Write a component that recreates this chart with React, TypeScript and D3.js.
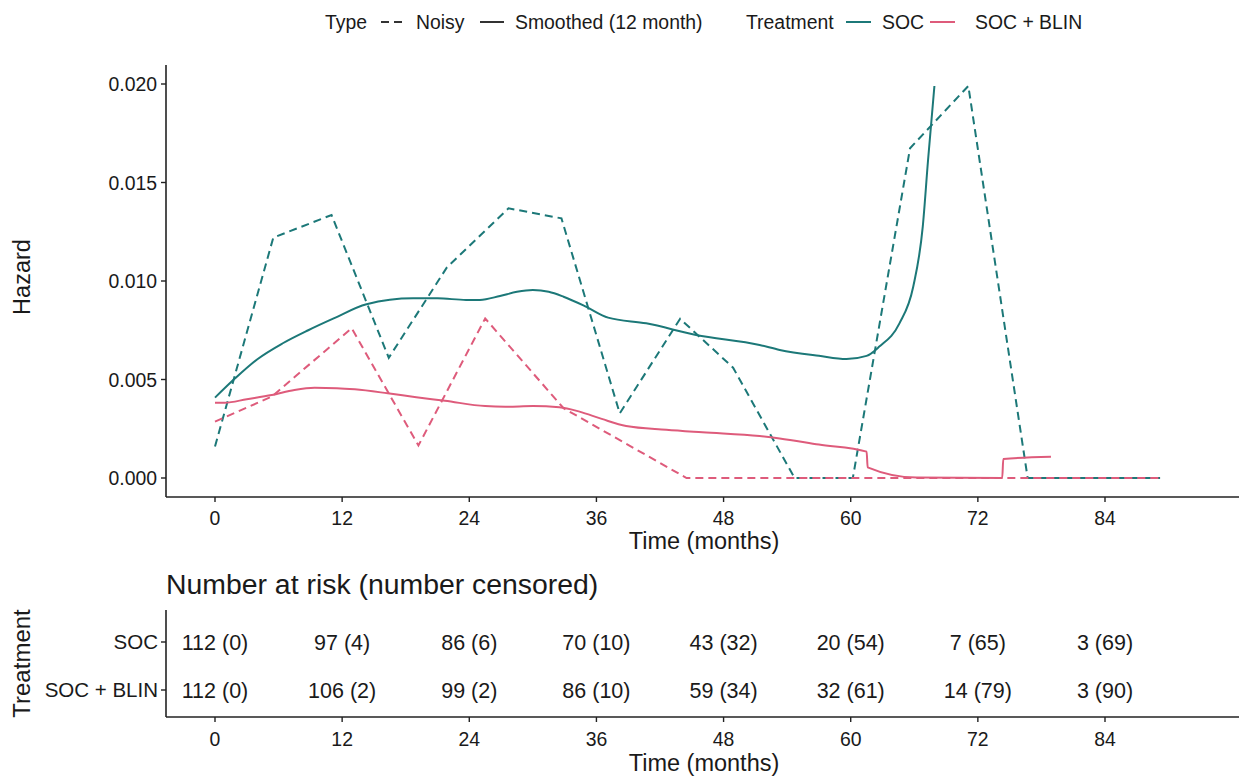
import React from "react";
import * as d3 from "d3";

// ---- Data -------------------------------------------------------------
const treatments = ["SOC", "SOC + BLIN"];
const treatmentColors = ["#1c7878", "#de5b7b"];

// Noisy hazard estimates (time in months, hazard)
const socNoisyT = [0, 5.5, 11.0, 16.4, 21.9, 27.7, 32.7, 38.2, 43.9, 48.9, 54.7, 60.2, 65.6, 71.1, 76.7, 89.2];
const socNoisyH = [0.0016, 0.0122, 0.01335, 0.0061, 0.0107, 0.01369, 0.01318, 0.00328, 0.00808, 0.0056, 0, 0, 0.01674, 0.0199, 0, 0];

const blinNoisyT = [0, 5.35, 12.9, 19.2, 25.5, 32.9, 44.5, 89.2];
const blinNoisyH = [0.00286, 0.00413, 0.0076, 0.00165, 0.0081, 0.00354, 0, 0];

// Smoothed (12 month) hazard
const socSmoothT = [0, 1.9, 4, 6.4, 8.8, 11.2, 14.3, 18.7, 21, 23.7, 25, 26.9, 28.5, 30, 31.5, 32.9, 35, 37.1, 40.7, 45.4, 51.4, 53.3, 57, 59.6, 61.5, 62.7, 64.6, 65.9, 66.8, 67.3, 67.9];
const socSmoothH = [0.00408, 0.00506, 0.00603, 0.00684, 0.0075, 0.0081, 0.00882, 0.00912, 0.00912, 0.00904, 0.00904, 0.00924, 0.00945, 0.00954, 0.00945, 0.0092, 0.0087, 0.00814, 0.00785, 0.00726, 0.00675, 0.0065, 0.0062, 0.00604, 0.0062, 0.00667, 0.00785, 0.00971, 0.01276, 0.01614, 0.0199];

const blinSmoothT = [0, 0.94, 3, 5.35, 7.5, 9.4, 11.5, 13.2, 16.3, 19, 21.7, 25.5, 27.4, 30, 32.5, 34.4, 36.5, 38.8, 42.6, 46, 51.4, 53.3, 57, 61.5, 61.6, 66.2, 74.3, 74.4, 78.9];
const blinSmoothH = [0.00382, 0.00382, 0.004, 0.00421, 0.00447, 0.00458, 0.00456, 0.0045, 0.0043, 0.0041, 0.00392, 0.00365, 0.00362, 0.00365, 0.00359, 0.00337, 0.003, 0.00264, 0.00245, 0.00232, 0.00213, 0.00201, 0.0017, 0.00134, 0.00054, 0.00002, 0, 0.00096, 0.00108];

// Number at risk table
const riskTimes = [0, 12, 24, 36, 48, 60, 72, 84];
const socAtRisk = [112, 97, 86, 70, 43, 20, 7, 3];
const socCensored = [0, 4, 6, 10, 32, 54, 65, 69];
const blinAtRisk = [112, 106, 99, 86, 59, 32, 14, 3];
const blinCensored = [0, 2, 2, 10, 34, 61, 79, 90];

const xTicks = [0, 12, 24, 36, 48, 60, 72, 84];
const yTicks = [0, 0.005, 0.01, 0.015, 0.02];

// ---- Layout -----------------------------------------------------------
const W = 1239;
const H = 778;
const FONT = "'Liberation Sans', Arial, Helvetica, sans-serif";
const TEXT = "#1a1a1a";
const AXIS = "#222";
const TICK_SIZE = 19.4;
const TITLE_SIZE = 23.5;

const panelLeft = 166;
const panelRight = 1245;
const panelTop = 65;
const panelBottom = 497;

const x = d3.scaleLinear().domain([0, 84]).range([215, 1105]);
const y = d3.scaleLinear().domain([0, 0.02]).range([478, 84]);

// risk table rows
const riskTop = 610;
const riskBottom = 717;
const riskY = d3.scalePoint<string>().domain(treatments).range([642, 690]);

const zip = (t: number[], h: number[]) => t.map((v, i) => [v, h[i]] as [number, number]);

const smoothLine = d3
  .line<[number, number]>()
  .x((d) => x(d[0]))
  .y((d) => y(d[1]))
  .curve(d3.curveMonotoneX);

const noisyLine = d3
  .line<[number, number]>()
  .x((d) => x(d[0]))
  .y((d) => y(d[1]));

const series = [
  { noisy: zip(socNoisyT, socNoisyH), smooth: zip(socSmoothT, socSmoothH), color: treatmentColors[0] },
  { noisy: zip(blinNoisyT, blinNoisyH), smooth: zip(blinSmoothT, blinSmoothH), color: treatmentColors[1] },
];

const riskRows = [
  { name: treatments[0], atRisk: socAtRisk, censored: socCensored },
  { name: treatments[1], atRisk: blinAtRisk, censored: blinCensored },
];

const fmtY = d3.format(".3f");

function Legend() {
  const ly = 22;
  const base = ly + 7;
  return (
    <g fontFamily={FONT} fontSize={TICK_SIZE} fill={TEXT}>
      <text x={325} y={base}>Type</text>
      <line x1={381} x2={406} y1={ly} y2={ly} stroke="#333" strokeWidth={2} strokeDasharray="8,5" />
      <text x={416} y={base}>Noisy</text>
      <line x1={480} x2={504} y1={ly} y2={ly} stroke="#333" strokeWidth={2} />
      <text x={515} y={base}>Smoothed (12 month)</text>
      <text x={746} y={base}>Treatment</text>
      <line x1={846} x2={871} y1={ly} y2={ly} stroke={treatmentColors[0]} strokeWidth={2} />
      <text x={882} y={base}>SOC</text>
      <line x1={930} x2={955} y1={ly} y2={ly} stroke={treatmentColors[1]} strokeWidth={2} />
      <text x={975} y={base}>SOC + BLIN</text>
    </g>
  );
}

function HazardPanel() {
  return (
    <g fontFamily={FONT}>
      {/* data */}
      {series.map((s, i) => (
        <g key={i}>
          <path d={noisyLine(s.noisy) || ""} fill="none" stroke={s.color} strokeWidth={2} strokeDasharray="8,5" />
          <path d={smoothLine(s.smooth) || ""} fill="none" stroke={s.color} strokeWidth={2} />
        </g>
      ))}
      {/* axes */}
      <line x1={panelLeft} x2={panelLeft} y1={panelTop} y2={panelBottom} stroke={AXIS} strokeWidth={1.6} />
      <line x1={panelLeft} x2={panelRight} y1={panelBottom} y2={panelBottom} stroke={AXIS} strokeWidth={1.6} />
      {yTicks.map((t) => (
        <g key={t}>
          <line x1={panelLeft - 5} x2={panelLeft} y1={y(t)} y2={y(t)} stroke={AXIS} strokeWidth={1.4} />
          <text x={panelLeft - 9} y={y(t) + 7} textAnchor="end" fontSize={TICK_SIZE} fill={TEXT}>
            {fmtY(t)}
          </text>
        </g>
      ))}
      {xTicks.map((t) => (
        <g key={t}>
          <line x1={x(t)} x2={x(t)} y1={panelBottom} y2={panelBottom + 5} stroke={AXIS} strokeWidth={1.4} />
          <text x={x(t)} y={panelBottom + 28} textAnchor="middle" fontSize={TICK_SIZE} fill={TEXT}>
            {t}
          </text>
        </g>
      ))}
      <text x={(x(0) + x(84)) / 2 + 44} y={549} textAnchor="middle" fontSize={TITLE_SIZE} fill={TEXT}>
        Time (months)
      </text>
      <text
        transform={`translate(30, ${(panelTop + panelBottom) / 2 - 4}) rotate(-90)`}
        textAnchor="middle"
        fontSize={TITLE_SIZE}
        fill={TEXT}
      >
        Hazard
      </text>
    </g>
  );
}

function RiskTable() {
  return (
    <g fontFamily={FONT}>
      <text x={panelLeft} y={594} fontSize={28.4} fill={TEXT}>
        Number at risk (number censored)
      </text>
      <line x1={panelLeft} x2={panelLeft} y1={riskTop} y2={riskBottom} stroke={AXIS} strokeWidth={1.6} />
      <line x1={panelLeft} x2={panelRight} y1={riskBottom} y2={riskBottom} stroke={AXIS} strokeWidth={1.6} />
      {riskRows.map((r) => {
        const ry = riskY(r.name) as number;
        return (
          <g key={r.name}>
            <line x1={panelLeft - 5} x2={panelLeft} y1={ry} y2={ry} stroke={AXIS} strokeWidth={1.4} />
            <text x={panelLeft - 8} y={ry + 7} textAnchor="end" fontSize={20.5} fill={TEXT}>
              {r.name}
            </text>
            {riskTimes.map((t, i) => (
              <text key={t} x={x(t)} y={ry + 7.5} textAnchor="middle" fontSize={21.5} fill={TEXT}>
                {`${r.atRisk[i]} (${r.censored[i]})`}
              </text>
            ))}
          </g>
        );
      })}
      {xTicks.map((t) => (
        <g key={t}>
          <line x1={x(t)} x2={x(t)} y1={riskBottom} y2={riskBottom + 5} stroke={AXIS} strokeWidth={1.4} />
          <text x={x(t)} y={riskBottom + 29} textAnchor="middle" fontSize={TICK_SIZE} fill={TEXT}>
            {t}
          </text>
        </g>
      ))}
      <text x={(x(0) + x(84)) / 2 + 44} y={771} textAnchor="middle" fontSize={TITLE_SIZE} fill={TEXT}>
        Time (months)
      </text>
      <text
        transform={`translate(30, ${(riskTop + riskBottom) / 2}) rotate(-90)`}
        textAnchor="middle"
        fontSize={TITLE_SIZE + 0.5}
        fill={TEXT}
      >
        Treatment
      </text>
    </g>
  );
}

export default function App() {
  return (
    <svg
      width={W}
      height={H}
      viewBox={`0 0 ${W} ${H}`}
      style={{ position: "absolute", left: 0, top: 0, background: "#fff" }}
    >
      <rect width={W} height={H} fill="#fff" />
      <Legend />
      <HazardPanel />
      <RiskTable />
    </svg>
  );
}
